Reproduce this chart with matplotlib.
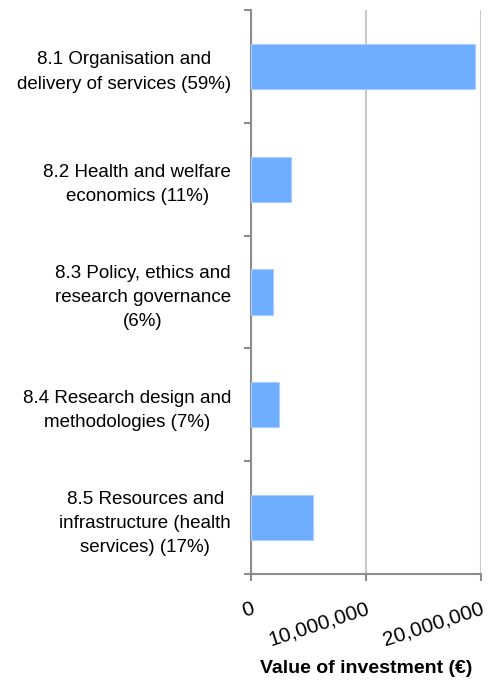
"""
Horizontal bar chart: value of investment by health services research category
"""
import matplotlib
matplotlib.use("Agg")
import matplotlib.pyplot as plt

categories = [
    "8.1 Organisation and\ndelivery of services (59%)",
    "8.2 Health and welfare\neconomics (11%)",
    "8.3 Policy, ethics and\nresearch governance\n(6%)",
    "8.4 Research design and\nmethodologies (7%)",
    "8.5 Resources and\ninfrastructure (health\nservices) (17%)",
]
investment = [19500000, 3500000, 1970000, 2460000, 5390000]
x_ticks = [0, 10000000, 20000000]
x_tick_labels = ["0", "10,000,000", "20,000,000"]

plt.rcParams['font.family'] = ['Liberation Sans', 'DejaVu Sans']

fig = plt.figure(figsize=(4.98, 6.86), dpi=100)
ax = fig.add_axes([0.5034, 0.1633, 0.4619, 0.8221])

n = len(categories)
y_pos = list(range(n))
ax.barh(y_pos, investment, height=0.4, color='#6EADFF',
        edgecolor='#A8CEFF', linewidth=0.8, zorder=3)

ax.set_ylim(n - 0.5, -0.5)
ax.set_xlim(0, 20000000)

# boundaries get the small tick marks, centres get the labels
ax.set_yticks([i - 0.5 for i in range(n + 1)])
ax.set_yticklabels([])
ax.set_yticks(y_pos, minor=True)
ax.set_yticklabels(categories, minor=True, fontsize=13.5,
                   multialignment='center', linespacing=1.55,
                   color='#000000')
ax.tick_params(axis='y', which='major', length=5, width=1.5,
               color='#8C8C8C', direction='out')
ax.tick_params(axis='y', which='minor', length=0, pad=14)

ax.set_xticks(x_ticks)
ax.set_xticklabels(x_tick_labels, fontsize=15, rotation=18,
                   ha='right', va='top', rotation_mode='anchor')
ax.tick_params(axis='x', length=5, width=1.5, color='#8C8C8C',
               direction='out', pad=13)

fig.text(0.735, 0.026, 'Value of investment (€)', fontsize=14,
         weight='bold', ha='center', va='center')

ax.grid(axis='x', color='#C8C8C8', linewidth=1.5, zorder=0)
ax.set_axisbelow(True)

for side in ['top', 'right']:
    ax.spines[side].set_visible(False)
for side in ['left', 'bottom']:
    ax.spines[side].set_color('#8C8C8C')
    ax.spines[side].set_linewidth(1.5)

plt.savefig('out.png', dpi=100)
